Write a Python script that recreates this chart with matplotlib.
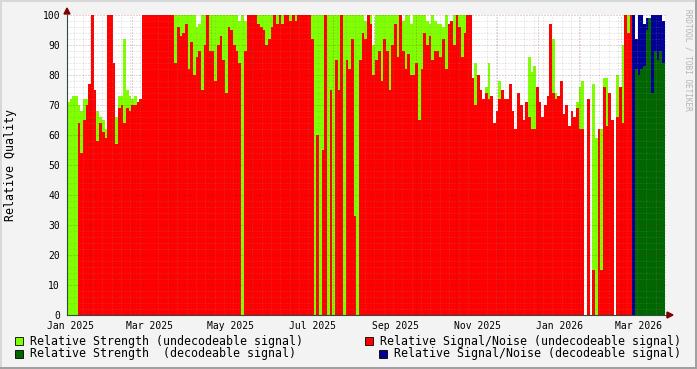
import datetime as dt
import numpy as np
import pandas as pd
import matplotlib
matplotlib.use('Agg')
import matplotlib.pyplot as plt
import matplotlib.dates as mdates
import matplotlib.patches as mpatches

W, H = 697, 369

# time axis
X_START = dt.datetime(2024, 12, 29, 18)
X_END = dt.datetime(2026, 3, 21, 20)
BIN_DAYS = 2

# undecodeable signal, one value per 2-day bin (None = nothing drawn)
snr_undec = [
    None, None, None, None, 64, 54, 65, 70, 77, 100,
    75, 58, 64, 61, 59, 100, 100, 84, 57, 69,
    70, 64, 69, 68, 70, 70, 71, 72, 100, 100,
    100, 100, 100, 100, 100, 100, 100, 100, 100, 100,
    84, 96, 93, 94, 97, 82, 91, 80, 86, 88,
    75, 90, 100, 88, 88, 78, 90, 93, 85, 74,
    96, 95, 90, 88, 84, None, 88, 100, 100, 100,
    100, 97, 96, 95, 90, 92, 96, 100, 97, 100,
    97, 100, 100, 98, 100, 98, 100, 100, 100, 100,
    100, 92, None, 60, None, 55, 100, None, 75, None,
    85, 75, 100, None, 85, 82, 92, 33, None, 85,
    94, 92, 100, 97, 80, 85, 88, 78, 92, 88,
    75, 90, 97, 86, 100, 88, 82, 87, 80, 80,
    84, 65, 82, 94, 90, 93, 85, 88, 88, 86,
    92, 82, 97, 98, 90, 100, 96, 86, 94, 100,
    100, 79, 70, 80, 75, 72, 74, 72, 73, 64,
    68, 72, 75, 72, 72, 77, 68, 62, 74, 70,
    65, 71, 66, 62, 62, 76, 71, 66, 70, 73,
    97, 74, 72, 73, 78, 67, 70, 63, 68, 66,
    69, 62, 62, None, 72, None, 15, None, 62, 15,
    76, 63, 74, 65, None, 66, 76, 64, 100, 94, 100,
]
strength_undec = [
    71, 72, 73, 73, 70, 68, 72, 72, None, None,
    None, 68, 66, 65, 62, None, None, None, 66, 73,
    73, 92, 75, 73, 72, 73, None, None, None, None,
    None, None, None, None, None, None, None, None, None, None,
    100, 100, 100, 100, 100, 100, 100, 100, 96, 97,
    100, 100, None, 100, 100, 100, 100, 100, 100, 100,
    100, 100, 100, 100, 98, 100, 98, None, None, None,
    None, 100, 100, 100, 100, 100, 100, None, 100, None,
    100, None, None, 100, None, 100, None, None, None, None,
    None, 100, 100, 100, 100, 100, None, 100, 100, 100,
    100, 100, None, 100, 100, 100, 100, 100, 100, 100,
    100, 98, None, 100, 90, 100, 100, 100, 100, 100,
    100, 100, 100, 100, None, 98, 100, 100, 97, 100,
    100, 100, 100, 100, 98, 97, 100, 98, 97, 97,
    96, 100, 97, None, 100, None, 100, 100, 100, None,
    None, None, 84, None, None, None, 76, 84, None, None,
    None, 78, None, None, None, None, None, None, None, None,
    None, None, 86, 81, 83, None, None, None, None, None,
    None, 92, 74, None, None, None, None, None, None, None,
    71, 76, 78, None, None, None, 77, 59, None, 62,
    79, 79, None, None, None, 80, None, 90, None, 100, None,
]

# decodeable signal, continues right after the undecodeable bins
snr_dec = [100, 92, 100, 100, 97, 99, 99, 100, 100, 100, 100, 98]
strength_dec = [None, 82, 80, 82, 83, 95, 99, 74, 88, 85, 88, 84]

C_STR_U = '#80FF00'
C_SNR_U = '#FF0000'
C_STR_D = '#006600'
C_SNR_D = '#000099'

plt.rcParams['font.family'] = 'DejaVu Sans Mono'


def fx(px):
    return px / W


def fy(py):
    return 1 - py / H


def to_arr(vals):
    return np.array([np.nan if v is None else v for v in vals], dtype=float)


n_total = len(snr_undec) + len(snr_dec)
bins = pd.date_range(X_START, periods=n_total, freq=f'{BIN_DAYS}D')
xb = mdates.date2num(bins.to_pydatetime())
xu = xb[:len(snr_undec)]
xd = xb[len(snr_undec):]

fig = plt.figure(figsize=(W / 100, H / 100), dpi=100, facecolor='#F3F3F3')
ax = fig.add_axes([fx(67), fy(315), fx(666) - fx(67), fy(15) - fy(315)])
ax.set_facecolor('white')


def draw(x, vals, color):
    v = to_arr(vals)
    ok = ~np.isnan(v)
    ax.bar(x[ok], v[ok], width=BIN_DAYS, align='edge', color=color,
           linewidth=0, antialiased=False, zorder=1)


draw(xu, strength_undec, C_STR_U)
draw(xu, snr_undec, C_SNR_U)
draw(xd, snr_dec, C_SNR_D)
draw(xd, strength_dec, C_STR_D)

ax.set_xlim(mdates.date2num(X_START), mdates.date2num(X_END))
ax.set_ylim(0, 100)

# grid (drawn over the areas, like rrdtool)
dots = (0, (1, 2))
ax.set_yticks(range(0, 101, 10))
ax.set_yticks(range(0, 101, 2), minor=True)
ax.xaxis.set_major_locator(mdates.MonthLocator(bymonth=[1, 3, 5, 7, 9, 11]))
ax.xaxis.set_major_formatter(mdates.DateFormatter('%b %Y'))
ax.xaxis.set_minor_locator(mdates.WeekdayLocator(byweekday=mdates.SA))
ax.grid(which='minor', color='#8C8C8C', alpha=0.35, lw=0.72, ls=dots)
ax.grid(which='major', axis='y', color='#821E1E', alpha=0.4, lw=0.72, ls=dots)
for d in pd.date_range('2024-12-16', '2026-03-20', freq='MS') + pd.Timedelta(days=15):
    ax.axvline(mdates.date2num(d.to_pydatetime()), color='#821E1E', alpha=0.4,
               lw=0.72, ls=dots, zorder=2.5)
ax.set_axisbelow(False)

ax.tick_params(which='both', length=0, labelsize=7, colors='black')
ax.tick_params(axis='y', pad=5)
ax.tick_params(axis='x', pad=4)

for s in ['top', 'right']:
    ax.spines[s].set_visible(False)
for s in ['left', 'bottom']:
    ax.spines[s].set_color('#2C4D43')
    ax.spines[s].set_linewidth(0.8)
    ax.spines[s].set_zorder(4)

# axis arrows
fig.patches.append(mpatches.Polygon(
    [(fx(67), fy(8)), (fx(64), fy(14)), (fx(70), fy(14))],
    closed=True, transform=fig.transFigure, color='#7F0000'))
fig.patches.append(mpatches.Polygon(
    [(fx(673), fy(315)), (fx(667), fy(312)), (fx(667), fy(318))],
    closed=True, transform=fig.transFigure, color='#7F0000'))

fig.text(fx(11), fy(165), 'Relative Quality', rotation=90, ha='center',
         va='center', fontsize=8.4)
fig.text(fx(688), fy(60), 'RRDTOOL / TOBI OETIKER', rotation=270, ha='center',
         va='center', fontsize=5.6, color='#B4B4B4')

# legend
legend = [
    (15, 341, C_STR_U, 30, 'Relative Strength (undecodeable signal)'),
    (365, 341, C_SNR_U, 380, 'Relative Signal/Noise (undecodeable signal)'),
    (15, 354, C_STR_D, 30, 'Relative Strength  (decodeable signal)'),
    (379, 354, C_SNR_D, 394, 'Relative Signal/Noise (decodeable signal)'),
]
for bx, by, col, tx, label in legend:
    fig.patches.append(mpatches.Rectangle(
        (fx(bx), fy(by + 4)), fx(8), 8 / H, transform=fig.transFigure,
        facecolor=col, edgecolor='black', lw=0.6))
    fig.text(fx(tx), fy(by), label, ha='left', va='center', fontsize=8.4)

# rrdtool-like frame
for (x0, y0, w, h, c) in [(0, 0, W, 2, '#D8D8D8'), (0, 0, 2, H, '#D8D8D8'),
                          (0, H - 2, W, 2, '#A0A0A0'), (W - 2, 0, 2, H, '#A0A0A0')]:
    fig.patches.append(mpatches.Rectangle(
        (fx(x0), fy(y0 + h)), w / W, h / H, transform=fig.transFigure,
        facecolor=c, edgecolor='none'))

fig.savefig('out.png', dpi=100, facecolor=fig.get_facecolor())
